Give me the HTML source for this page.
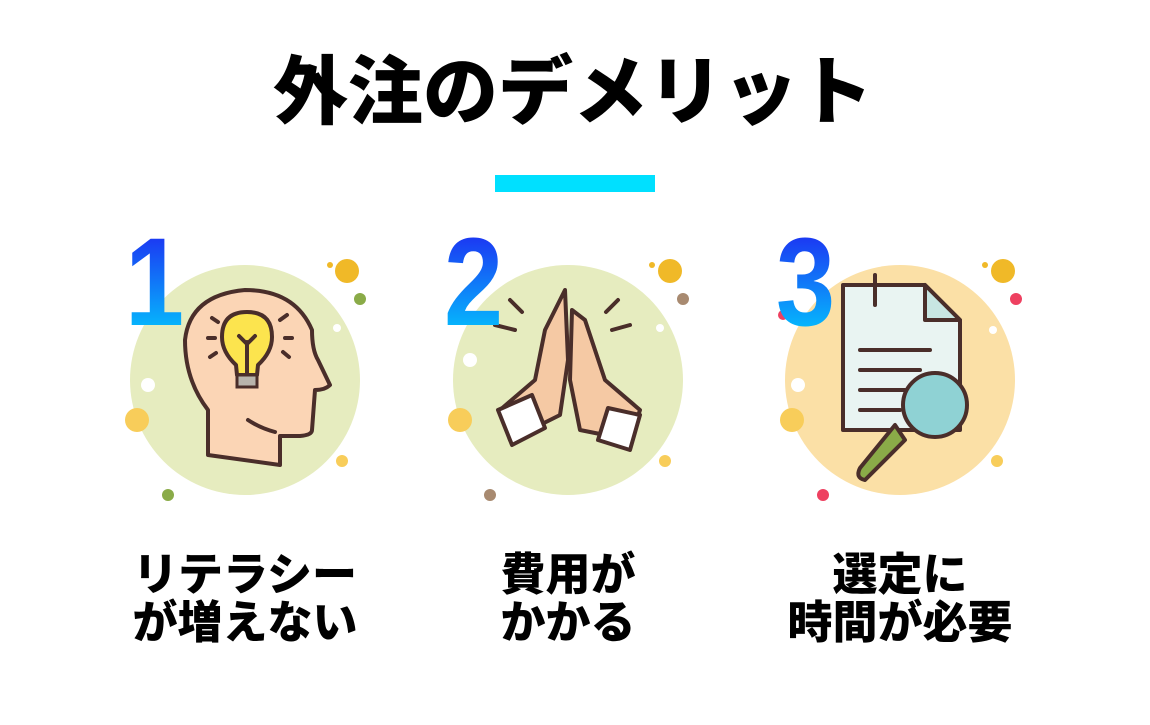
<!DOCTYPE html>
<html><head><meta charset="utf-8"><style>
html,body{margin:0;padding:0;background:#fff}
svg{display:block}
.t{font-family:"Liberation Sans","Noto Sans CJK JP",sans-serif;font-weight:900;fill:#000}
.n{font-family:"Liberation Sans",sans-serif;font-weight:bold}
.s{stroke:#4a2e2a;stroke-width:4;stroke-linecap:round;stroke-linejoin:round}
.o{fill:none}
</style></head><body>
<svg width="1150" height="725" viewBox="0 0 1150 725">
<defs>
<linearGradient id="g" x1="0" y1="0" x2="0" y2="1"><stop offset="0" stop-color="#2116f0"/><stop offset="1" stop-color="#00d8ff"/></linearGradient>
</defs>
<text class="t" x="573" y="118" font-size="75" text-anchor="middle">外注のデメリット</text>
<rect x="495" y="175" width="160" height="17" fill="#00e0ff"/>

<!-- circle 1 -->
<circle cx="245" cy="380" r="115" fill="#e6ecbf"/>
<circle cx="347" cy="271" r="12" fill="#f0b928"/><circle cx="330" cy="265" r="3" fill="#f0b928"/>
<circle cx="360" cy="299" r="6" fill="#8aab48"/><circle cx="337" cy="328" r="4" fill="#fff"/>
<circle cx="148" cy="385" r="7" fill="#fff"/><circle cx="137" cy="420" r="12" fill="#f8cd5a"/>
<circle cx="342" cy="461" r="6" fill="#f8cd5a"/><circle cx="168" cy="495" r="6" fill="#8aab48"/>
<path d="M208 455 L208 410 Q185 380 185 340 Q190 295 245 290 Q295 290 312 330 Q312 350 318 360 L330 385 Q325 390 315 390 L312 430 Q312 435 300 436 L280 436 L280 465 Z" fill="#fbd5b5" class="s"/>
<path d="M248 420 Q260 428 275 432" class="s o"/>
<path d="M247 312 Q222 312 222 337 Q222 352 236 365 L237 375 L257 375 L258 365 Q272 352 272 337 Q272 312 247 312Z" fill="#fce44e" class="s"/>
<rect x="237" y="375" width="20" height="12" fill="#b8b4ac" stroke="#4a2e2a" stroke-width="3"/>
<path d="M247 373 L247 342 M239 336 L247 344 L255 336 M208 338 L215 338 M285 338 L292 338 M212 318 L218 322 M287 315 L280 320 M210 357 L216 353 M283 352 L289 357" class="s o" stroke-width="3"/>
<text class="n" x="0" y="325" font-size="125" fill="url(#g)" transform="translate(125,0) scale(0.85,1)">1</text>

<!-- circle 2 -->
<circle cx="568" cy="380" r="115" fill="#e6ecbf"/>
<circle cx="670" cy="271" r="12" fill="#f0b928"/><circle cx="652" cy="265" r="3" fill="#f0b928"/>
<circle cx="683" cy="299" r="6" fill="#a88a70"/><circle cx="660" cy="328" r="4" fill="#fff"/>
<circle cx="470" cy="360" r="7" fill="#fff"/><circle cx="460" cy="420" r="12" fill="#f8cd5a"/>
<circle cx="665" cy="461" r="6" fill="#f8cd5a"/><circle cx="490" cy="495" r="6" fill="#a88a70"/>
<path d="M565 290 L545 330 L535 380 L500 410 L510 440 L560 415 L568 360 Z" fill="#f5c9a4" class="s"/>
<path d="M572 310 L585 320 L605 380 L640 410 L630 440 L580 430 L570 380 Z" fill="#f5c9a4" class="s"/>
<path d="M498 410 L512 445 L545 428 L532 395 Z M640 415 L630 450 L598 440 L608 408 Z" fill="#fff" class="s"/>
<path d="M510 300 L522 312 M495 325 L515 330 M618 300 L606 312 M630 325 L612 330" class="s o" stroke-width="3"/>
<text class="n" x="0" y="325" font-size="125" fill="url(#g)" transform="translate(444,0) scale(0.85,1)">2</text>

<!-- circle 3 -->
<circle cx="900" cy="380" r="115" fill="#fbe0a6"/>
<circle cx="1003" cy="271" r="12" fill="#f0b928"/><circle cx="985" cy="265" r="3" fill="#f0b928"/>
<circle cx="1016" cy="299" r="6" fill="#ee4060"/><circle cx="993" cy="330" r="4" fill="#fff"/>
<circle cx="783" cy="315" r="5" fill="#ee4060"/><circle cx="798" cy="385" r="7" fill="#fff"/><circle cx="792" cy="420" r="12" fill="#f8cd5a"/>
<circle cx="997" cy="461" r="6" fill="#f8cd5a"/><circle cx="823" cy="495" r="6" fill="#ee4060"/>
<path d="M843 285 L925 285 L960 320 L960 430 L843 430 Z" fill="#e9f4f2" class="s"/>
<path d="M925 285 L925 320 L960 320 Z" fill="#c8e6e2" class="s"/>
<path d="M860 350 L930 350 M860 370 L920 370 M860 390 L905 390 M860 410 L900 410" class="s o" stroke-width="3"/>
<path d="M875 275 L875 305" class="s o" stroke-width="6" stroke="#b8b4ac"/>
<path d="M895 425 L860 468 Q855 478 865 480 L905 440 Z" fill="#8aab48" class="s"/>
<circle cx="935" cy="405" r="32" fill="#8fd2d4" class="s"/>
<text class="n" x="0" y="325" font-size="125" fill="url(#g)" transform="translate(776,0) scale(0.85,1)">3</text>

<g class="t" font-size="45" text-anchor="middle">
<text x="245" y="590">リテラシー</text><text x="245" y="638">が増えない</text>
<text x="568" y="590">費用が</text><text x="568" y="638">かかる</text>
<text x="900" y="590">選定に</text><text x="900" y="638">時間が必要</text>
</g>
</svg>
</body></html>
